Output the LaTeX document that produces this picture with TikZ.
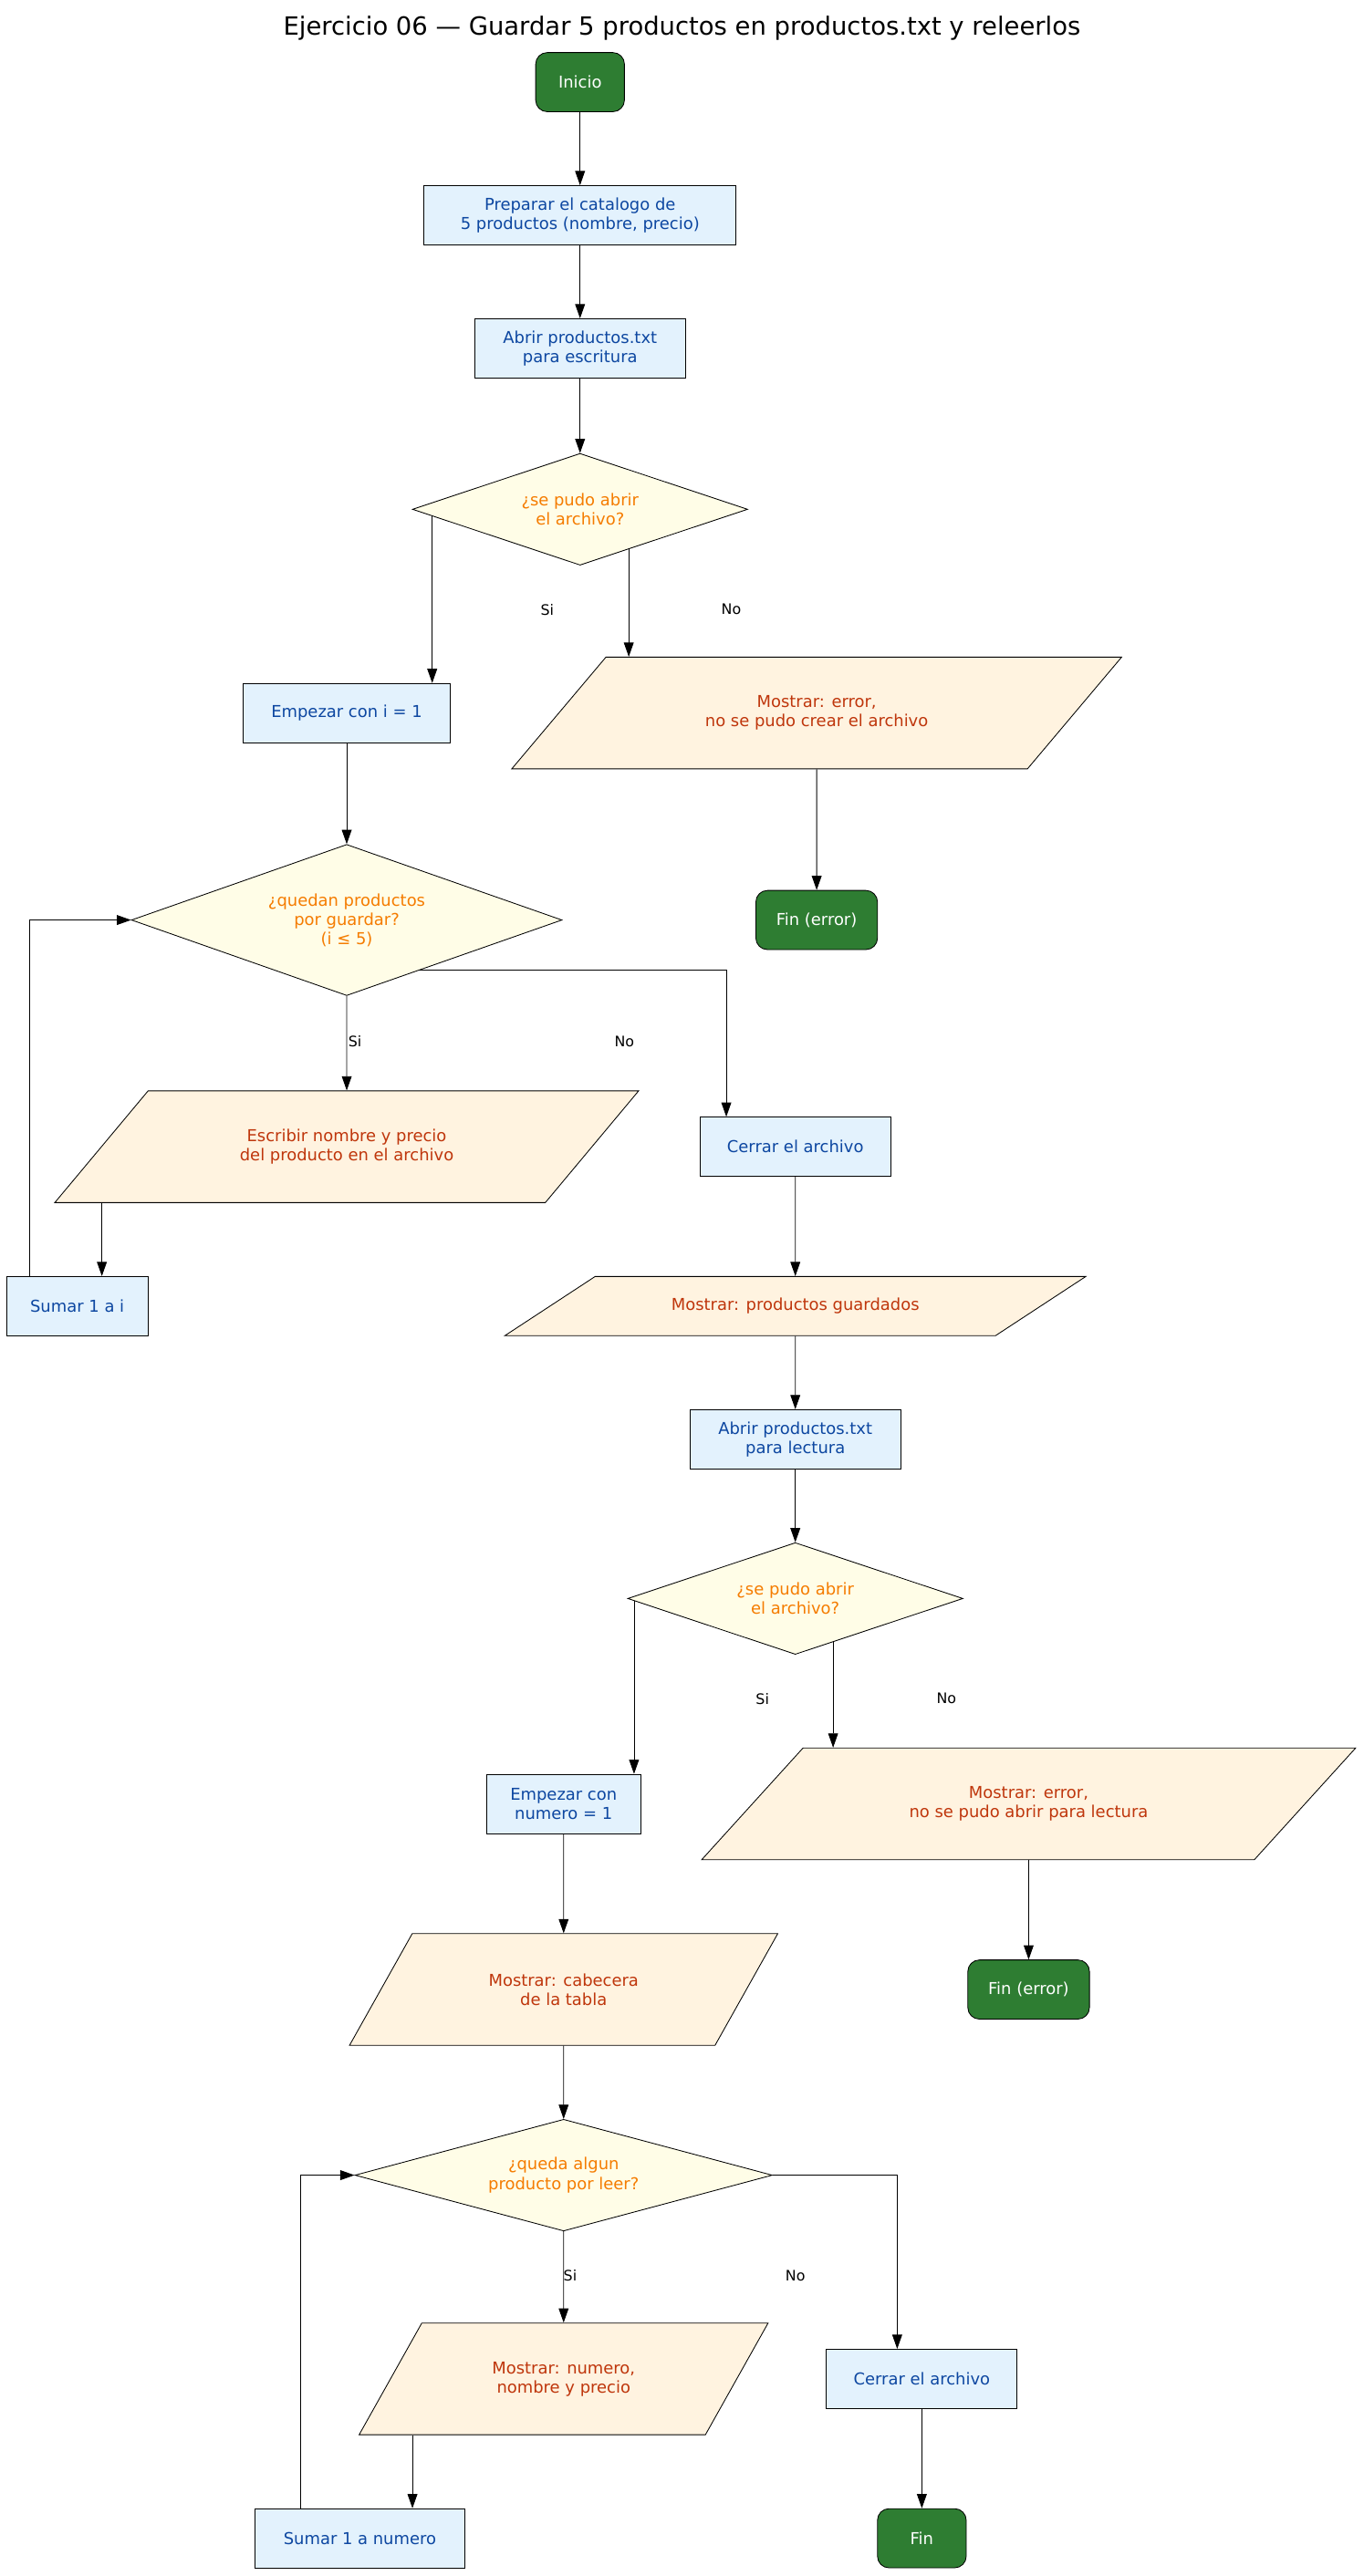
\documentclass[tikz,border=0pt]{standalone}
\usepackage{fontspec}
\setmainfont{DejaVu Sans}
\usepackage{xcolor}
\usetikzlibrary{shapes.geometric,arrows.meta,calc}

\definecolor{boxfill}{HTML}{E3F2FD}
\definecolor{boxtext}{HTML}{0D47A1}
\definecolor{decfill}{HTML}{FFFDE7}
\definecolor{dectext}{HTML}{F57C00}
\definecolor{iofill}{HTML}{FFF3E0}
\definecolor{iotext}{HTML}{BF360C}
\definecolor{termfill}{HTML}{2E7D32}

\begin{document}
\begin{tikzpicture}[
    x=0.03cm, y=-0.03cm,
    every node/.style={font=\fontsize{8.5}{10}\selectfont, align=center},
    term/.style={draw, rounded corners=6pt, fill=termfill, text=white,
                 minimum width=1.62cm, minimum height=1.08cm},
    box/.style={draw, fill=boxfill, text=boxtext, minimum height=1.08cm},
    dec/.style={draw, diamond, aspect=3, inner sep=0pt, fill=decfill, text=dectext},
    io/.style={draw, trapezium, trapezium stretches=true, fill=iofill, text=iotext,
               trapezium left angle=#1, trapezium right angle=180-#1},
    arr/.style={-{Triangle[length=2.6mm,width=1.8mm]}, thin},
    lbl/.style={font=\fontsize{7.5}{9}\selectfont}
]
\useasboundingbox (0,0) rectangle (830,1568);

% --- title ---
\node[font=\fontsize{13}{15}\selectfont] (title) at (415,17) {Ejercicio 06 — Guardar 5 productos en productos.txt y releerlos};

% --- write part ---
\node[term] (start) at (353,50) {Inicio};
\node[box, minimum width=5.7cm] (prep) at (353,131) {Preparar el catalogo de\\5 productos (nombre, precio)};
\node[box, minimum width=3.84cm] (openw) at (353,212) {Abrir productos.txt\\para escritura};
\node[dec, minimum width=6.12cm, minimum height=2.04cm] (okw) at (353,310) {¿se pudo abrir\\el archivo?};
\node[box, minimum width=3.78cm] (initi) at (211,434) {Empezar con i = 1};
\node[io=42, minimum width=11.16cm, minimum height=2.04cm] (errw) at (497,434) {Mostrar: error,\\no se pudo crear el archivo};
\node[term, minimum width=2.22cm] (finerrw) at (497,560) {Fin (error)};
\node[dec, minimum width=7.86cm, minimum height=2.76cm] (more) at (211,560) {¿quedan productos\\por guardar?\\(i ≤ 5)};
\node[io=42, minimum width=10.68cm, minimum height=2.04cm] (write) at (211,698) {Escribir nombre y precio\\del producto en el archivo};
\node[box, minimum width=2.58cm] (inci) at (47,795) {Sumar 1 a i};
\node[box, minimum width=3.48cm] (closew) at (484,698) {Cerrar el archivo};
\node[io=26, minimum width=10.62cm, minimum height=1.08cm] (saved) at (484,795) {Mostrar: productos guardados};

% --- read part ---
\node[box, minimum width=3.84cm] (openr) at (484,876) {Abrir productos.txt\\para lectura};
\node[dec, minimum width=6.12cm, minimum height=2.04cm] (okr) at (484,973) {¿se pudo abrir\\el archivo?};
\node[box, minimum width=2.82cm] (initn) at (343,1098) {Empezar con\\numero = 1};
\node[io=40, minimum width=11.97cm, minimum height=2.04cm] (errr) at (626,1098) {Mostrar: error,\\no se pudo abrir para lectura};
\node[term, minimum width=2.22cm] (finerrr) at (626,1211) {Fin (error)};
\node[io=53, minimum width=7.83cm, minimum height=2.04cm] (head) at (343,1211) {Mostrar: cabecera\\de la tabla};
\node[dec, minimum width=7.62cm, minimum height=2.04cm] (left) at (343,1324) {¿queda algun\\producto por leer?};
\node[io=54, minimum width=7.47cm, minimum height=2.04cm] (show) at (343,1448) {Mostrar: numero,\\nombre y precio};
\node[box, minimum width=3.48cm] (closer) at (561,1448) {Cerrar el archivo};
\node[box, minimum width=3.84cm] (incn) at (219,1545) {Sumar 1 a numero};
\node[term] (stop) at (561,1545) {Fin};

% helper points
\coordinate (wA) at ($(okw.west)!0.12!(okw.south)$);
\coordinate (wB) at ($(okw.south)!0.29!(okw.east)$);
\coordinate (mB) at ($(more.south)!0.336!(more.east)$);
\coordinate (cwin) at ($(closew.north)+(-42,0)$);
\coordinate (iin) at ($(inci.north)+(15,0)$);
\coordinate (iout) at ($(inci.north west)+(14,0)$);
\coordinate (rA) at ($(okr.west)!0.04!(okr.south)$);
\coordinate (rB) at ($(okr.south)!0.225!(okr.east)$);
\coordinate (crin) at ($(closer.north)+(-15,0)$);
\coordinate (nin) at ($(incn.north)+(32,0)$);
\coordinate (nout) at ($(incn.north west)+(28,0)$);

% --- connectors ---
\draw[arr] (start) -- (prep);
\draw[arr] (prep) -- (openw);
\draw[arr] (openw) -- (okw);
\draw[arr] (wA) -- (wA |- initi.north);
\draw[arr] (wB) -- (wB |- errw.north);
\draw[arr] (errw) -- (finerrw);
\draw[arr] (initi) -- (more);
\draw[arr] (more) -- (write);
\draw[arr] (mB) -| (cwin);
\draw[arr] (write.south -| iin) -- (iin);
\draw[arr] (iout) |- (more.west);
\draw[arr] (closew) -- (saved);
\draw[arr] (saved) -- (openr);
\draw[arr] (openr) -- (okr);
\draw[arr] (rA) -- (rA |- initn.north);
\draw[arr] (rB) -- (rB |- errr.north);
\draw[arr] (errr) -- (finerrr);
\draw[arr] (initn) -- (head);
\draw[arr] (head) -- (left);
\draw[arr] (left) -- (show);
\draw[arr] (left.east) -| (crin);
\draw[arr] (show.south -| nin) -- (nin);
\draw[arr] (nout) |- (left.west);
\draw[arr] (closer) -- (stop);

% --- branch labels ---
\node[lbl] (l1) at (333,371) {Si};
\node[lbl] (l2) at (445,371) {No};
\node[lbl] (l3) at (216,634) {Si};
\node[lbl] (l4) at (380,634) {No};
\node[lbl] (l5) at (464,1034) {Si};
\node[lbl] (l6) at (576,1034) {No};
\node[lbl] (l7) at (347,1385) {Si};
\node[lbl] (l8) at (484,1385) {No};

\end{tikzpicture}
\end{document}
